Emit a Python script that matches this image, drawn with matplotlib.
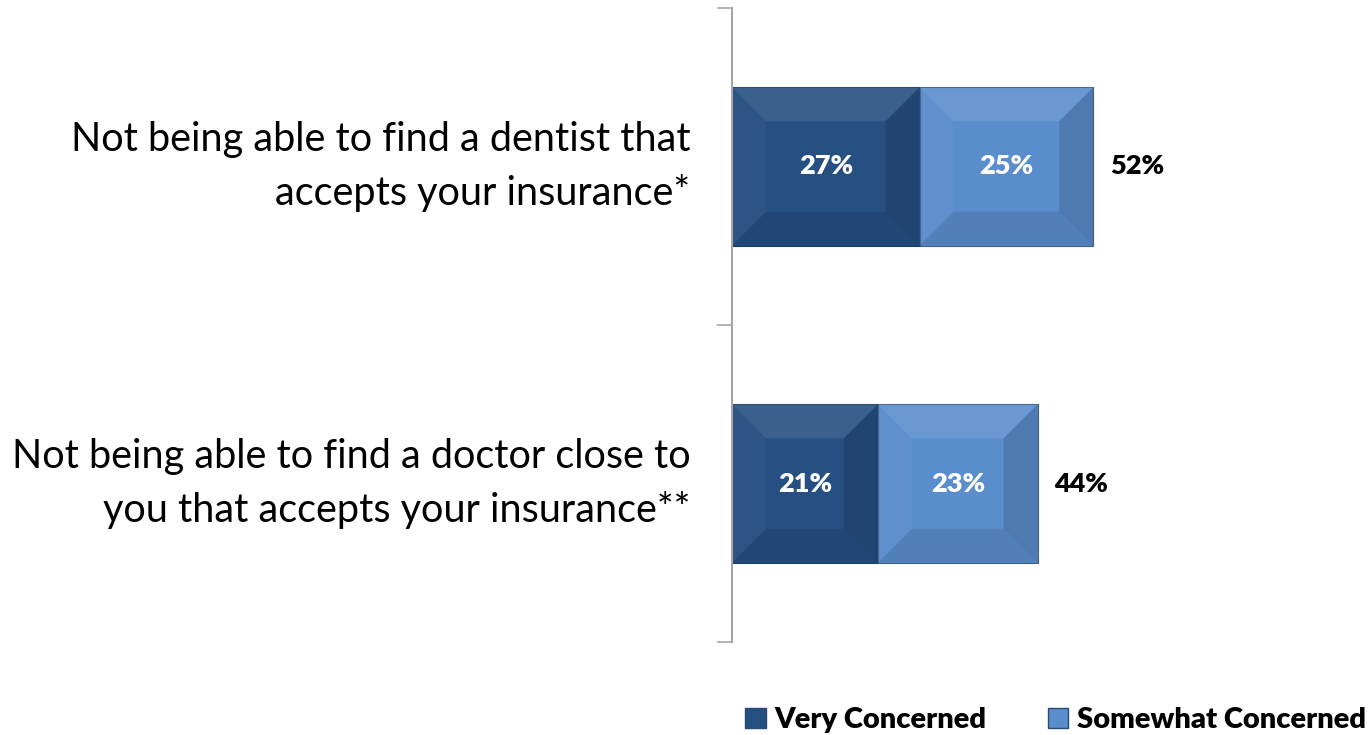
import matplotlib

matplotlib.use("Agg")
import matplotlib.pyplot as plt
import matplotlib.patches as mpatches
import numpy as np

plt.rcParams["font.family"] = ["Lato", "DejaVu Sans"]
BOLD = {"family": ["Lato", "DejaVu Sans"], "weight": "heavy"}

CATEGORIES = [
    "Not being able to find a dentist that\naccepts your insurance*",
    "Not being able to find a doctor close to\nyou that accepts your insurance**",
]
VERY = [27, 21]
SOMEWHAT = [25, 23]
TOTAL = [52, 44]
SERIES = ["Very Concerned", "Somewhat Concerned"]

DARK = "#264f82"
LIGHT = "#5a8dcc"
AXIS_GRAY = "#a6a6a6"
BEVEL = 34  # bevel width in pixels


def bevel(ax, patch):
    """Overlay four shaded trapezoids so a bar looks like a raised tile."""
    (x0, y0), (x1, y1) = ax.transData.transform(
        [(patch.get_x(), patch.get_y()),
         (patch.get_x() + patch.get_width(), patch.get_y() + patch.get_height())])
    x0, x1 = sorted((x0, x1))
    y0, y1 = sorted((y0, y1))
    b = min(BEVEL, (x1 - x0) / 2, (y1 - y0) / 2)
    inv = ax.transData.inverted()
    faces = [
        ([(x0, y1), (x1, y1), (x1 - b, y1 - b), (x0 + b, y1 - b)], "white", 0.10),
        ([(x0, y0), (x0, y1), (x0 + b, y1 - b), (x0 + b, y0 + b)], "white", 0.03),
        ([(x1, y0), (x1, y1), (x1 - b, y1 - b), (x1 - b, y0 + b)], "black", 0.13),
        ([(x0, y0), (x1, y0), (x1 - b, y0 + b), (x0 + b, y0 + b)], "black", 0.09),
    ]
    for pts, col, a in faces:
        ax.add_patch(mpatches.Polygon(inv.transform(np.array(pts)), closed=True,
                                      facecolor=col, alpha=a, edgecolor="none",
                                      zorder=3))


fig = plt.figure(figsize=(13.71, 7.35), dpi=100)
ax = fig.add_axes([732 / 1371, 93 / 735, 639 / 1371, 634 / 735])
ax.set_xlim(0, 92)
ax.set_ylim(1.5, -0.5)

y = np.arange(len(CATEGORIES))
b1 = ax.barh(y, VERY, height=0.5, color=DARK, edgecolor="#1f3d63",
             linewidth=0.8, zorder=2)
b2 = ax.barh(y, SOMEWHAT, left=VERY, height=0.5, color=LIGHT,
             edgecolor="#3d5f8c", linewidth=0.8, zorder=2)
for p in list(b1) + list(b2):
    bevel(ax, p)

for yi, v, s, t in zip(y, VERY, SOMEWHAT, TOTAL):
    ax.text(v / 2, yi, f"{v}%", ha="center", va="center", color="white",
            fontsize=19.5, zorder=4, **BOLD)
    ax.text(v + s / 2, yi, f"{s}%", ha="center", va="center", color="white",
            fontsize=19.5, zorder=4, **BOLD)
    ax.annotate(f"{t}%", xy=(t, yi), xytext=(12, 0), textcoords="offset points",
                ha="left", va="center", fontsize=19.5, **BOLD)

ax.set_yticks(y)
ax.set_yticklabels(CATEGORIES, fontsize=28.5, multialignment="right",
                   linespacing=1.5, va="center")
ax.tick_params(axis="y", which="major", length=0, pad=30)
ax.set_yticks([-0.5, 0.5, 1.5], minor=True)
ax.tick_params(axis="y", which="minor", length=11, width=1.2, color=AXIS_GRAY)
ax.set_xticks([])
for side in ("top", "right", "bottom"):
    ax.spines[side].set_visible(False)
ax.spines["left"].set_color(AXIS_GRAY)
ax.spines["left"].set_linewidth(1.5)
ax.spines["left"].set_zorder(5)

handles = [mpatches.Patch(facecolor=c, edgecolor="#2a4a72", label=lab)
           for c, lab in zip([DARK, LIGHT], SERIES)]
leg = fig.legend(handles=handles, loc="center right",
                 bbox_to_anchor=(1366 / 1371, 15 / 735), ncol=2, frameon=False,
                 prop={"size": 21, **BOLD},
                 handlelength=0.7, handleheight=0.7, handletextpad=0.3,
                 columnspacing=2.1, borderaxespad=0, borderpad=0)

fig.savefig("out.png", dpi=100)
